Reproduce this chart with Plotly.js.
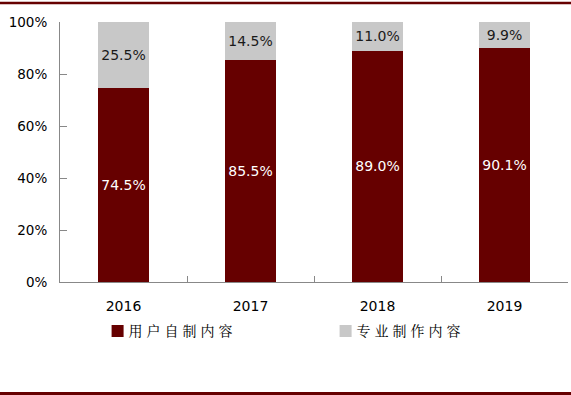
<!DOCTYPE html>
<html><head><meta charset="utf-8">
<script src="https://cdn.plot.ly/plotly-3.0.1.min.js"></script>
<style>
html,body{margin:0;padding:0;background:#fff;}
#chart{width:571px;height:395px;}
.legendtext{letter-spacing:4px; transform:translateX(-9px);}
</style>
</head><body><div id="chart"></div>
<script>
const years = ['2016', '2017', '2018', '2019'];
const userContent = [74.5, 85.5, 89.0, 90.1];
const proContent = [25.5, 14.5, 11.0, 9.9];
const seriesNames = ['用户自制内容', '专业制作内容'];
const yTickVals = [0, 20, 40, 60, 80, 100];
const yTickText = ['0%', '20%', '40%', '60%', '80%', '100%'];

const fmt = v => v.toFixed(1) + '%';
const numFont = 'DejaVu Sans, Verdana, sans-serif';
const cjkFont = 'Noto Serif CJK SC, Noto Sans CJK SC, sans-serif';

const traces = [
  {type:'bar', name:seriesNames[0], x:years, y:userContent,
   marker:{color:'#660000'}, text:userContent.map(fmt), textposition:'inside',
   insidetextanchor:'middle', textangle:0,
   textfont:{family:numFont, size:14, color:'#ffffff'}, hoverinfo:'skip'},
  {type:'bar', name:seriesNames[1], x:years, y:proContent,
   marker:{color:'#c8c8c8'}, text:proContent.map(fmt), textposition:'inside',
   insidetextanchor:'middle', textangle:0,
   textfont:{family:numFont, size:14, color:'#1a1a1a'}, hoverinfo:'skip'}
];

const layout = {
  width:571, height:395, barmode:'stack', bargap:0.6,
  paper_bgcolor:'#ffffff', plot_bgcolor:'#ffffff',
  margin:{l:60, r:3, t:22, b:113},
  font:{family:numFont, size:13, color:'#000'},
  xaxis:{type:'category', showgrid:false, showline:true, linecolor:'#888', linewidth:1,
    ticks:'inside', ticklen:6, tickcolor:'#888', tickson:'boundaries',
    tickfont:{family:numFont, size:14, color:'#000'}, ticklabelstandoff:11},
  yaxis:{range:[0,100], tickvals:yTickVals, ticktext:yTickText, showgrid:false, zeroline:false,
    showline:true, linecolor:'#888', linewidth:1, ticks:'inside', ticklen:7, tickcolor:'#888',
    tickfont:{family:numFont, size:13.5, color:'#000'}, ticklabelstandoff:9},
  showlegend:true,
  legend:{orientation:'h', x:0.074, xanchor:'left', y:-0.128, yanchor:'top',
    font:{family:cjkFont, size:14, color:'#000'}, entrywidth:183, entrywidthmode:'pixels',
    itemwidth:30, traceorder:'normal', bgcolor:'rgba(0,0,0,0)'},
  shapes:[
    {type:'line', xref:'paper', yref:'paper', x0:-0.2, x1:1.1, y0:(282-3)/260, y1:(282-3)/260,
     line:{color:'#660000', width:2.5}},
    {type:'line', xref:'paper', yref:'paper', x0:-0.2, x1:1.1, y0:(282-393.5)/260, y1:(282-393.5)/260,
     line:{color:'#660000', width:3}}
  ]
};

Plotly.newPlot('chart', traces, layout, {displayModeBar:false, staticPlot:true});
</script></body></html>
